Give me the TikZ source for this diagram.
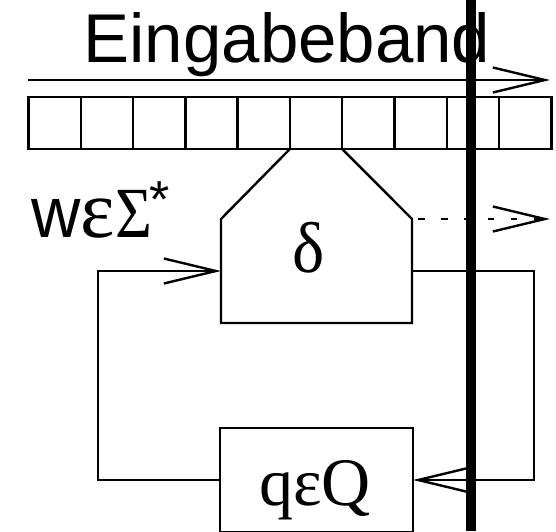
\documentclass[tikz,border=0pt]{standalone}
\usepackage{graphicx}
\usepackage{fontspec}
\setmainfont{Liberation Serif}
\setsansfont{Liberation Sans}
\usetikzlibrary{positioning, arrows.meta, calc}

\begin{document}
\begin{tikzpicture}[
    x=0.5pt, y=-0.5pt,
    line width=1.2pt,
    cell/.style={draw, minimum width=26.15pt, minimum height=26pt, inner sep=0pt, outer sep=0pt},
    headbox/.style={minimum width=95.5pt, minimum height=52pt, inner sep=0pt, outer sep=0pt},
    statebox/.style={draw, minimum width=96.5pt, minimum height=52pt, inner sep=0pt, outer sep=0pt},
    arrow/.style={-{Straight Barb[length=26pt, width=12.5pt]}},
    dotarrow/.style={arrow, dash pattern=on 3.3pt off 8.3pt},
    marker/.style={line width=5pt},
    bigsf/.style={font=\sffamily\fontsize{34.5}{34.5}\selectfont},
    bigrm/.style={font=\fontsize{36}{36}\selectfont},
]
\clip (0,0) rectangle (556,531);

% Eingabeband
\node[bigsf, anchor=base, inner sep=0pt] (title) at (287,62) {Eingabeband};
\foreach \i in {1,...,10}{
    \node[cell] (cell\i) at ({28.4+52.3*(\i-0.5)},123) {};
}
\draw[arrow] ([yshift=8.5pt]cell1.north west) -- ([yshift=8.5pt,xshift=-0.7pt]cell10.north east);

% Lesekopf
\node[headbox] (delta) at (316.5,271) {};
\node[bigrm, anchor=base, inner sep=0pt] (dsym) at (309,272) {\scalebox{0.95}[1]{δ}};
\draw (cell6.south west) -- (delta.north west) -- (delta.south west)
      -- (delta.south east) -- (delta.north east) -- (cell6.south east);
\draw[dotarrow] ([xshift=3pt]delta.north east) -- ++(132,0);

\node[anchor=base west, inner sep=0pt] (word) at (30,237)
    {{\sffamily\fontsize{36}{36}\selectfont\scalebox{0.95}[1]{w}}{\fontsize{41}{41}\selectfont ε}{\fontsize{36}{36}\selectfont\scalebox{0.88}[1]{Σ}}\kern-1pt\raisebox{10pt}{\sffamily\fontsize{26}{26}\selectfont *}};

% Zustand
\node[statebox] (state) at (316.5,480) {};
\node[bigrm, font=\fontsize{34}{34}\selectfont, anchor=base, inner sep=0pt] (qsym) at (315,505) {qεQ};

% Rueckkopplung
\draw[arrow] (delta.east) -- ++(122,0) |- (state.east);
\draw[arrow] (state.west) -- ++(-122,0) |- (delta.west);

\draw[marker] (471,0) -- (471,531);
\end{tikzpicture}
\end{document}
